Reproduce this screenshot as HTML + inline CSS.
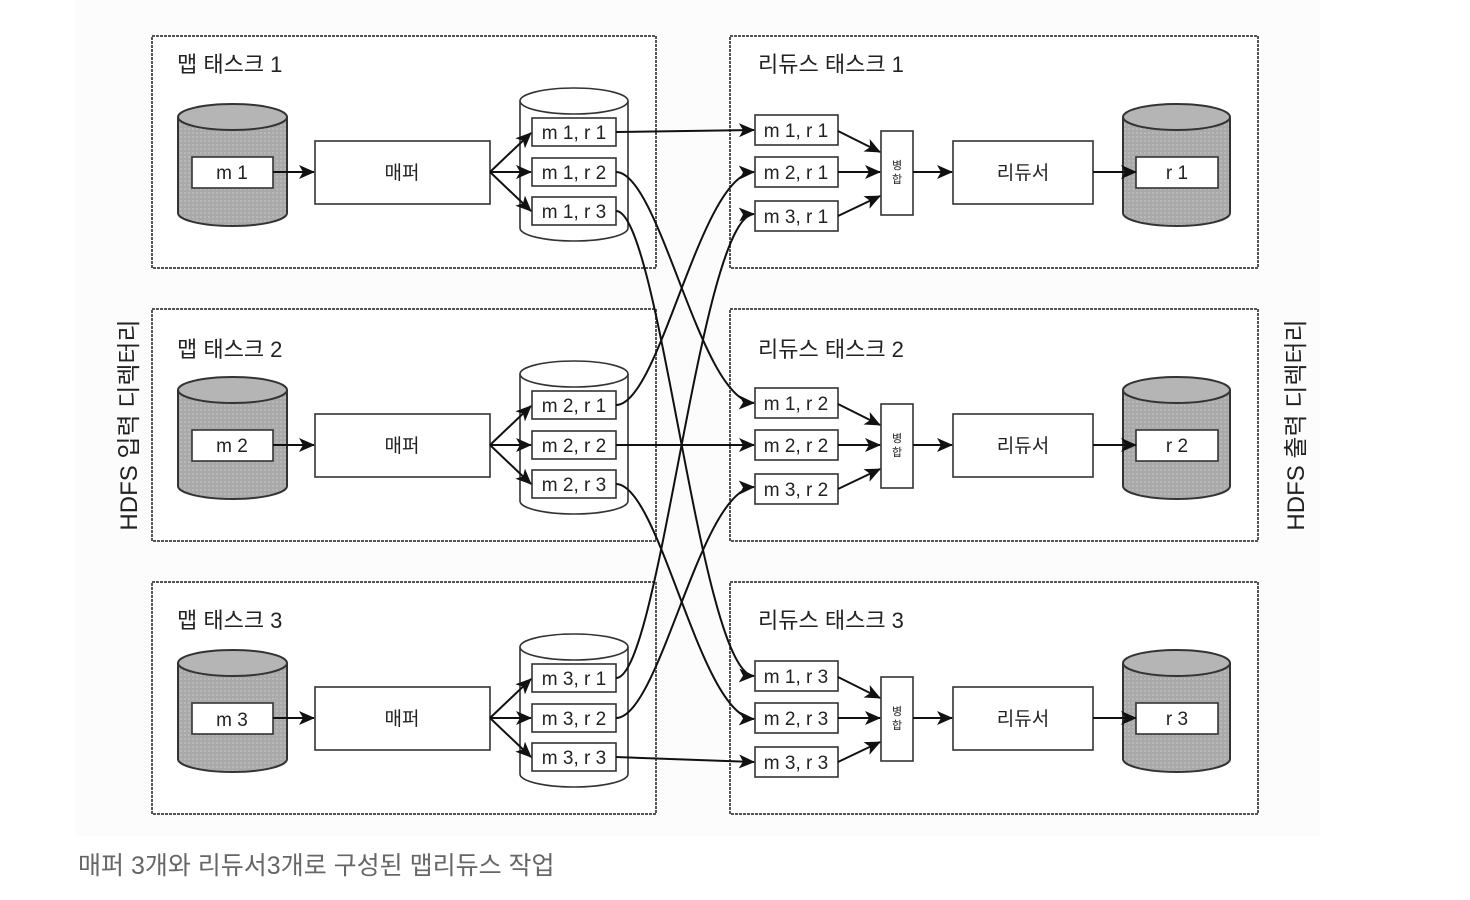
<!DOCTYPE html>
<html><head><meta charset="utf-8"><style>
html,body{margin:0;padding:0;background:#fff;width:1470px;height:900px;overflow:hidden}
text{font-family:"Liberation Sans","Noto Sans CJK KR",sans-serif;fill:#222}
</style></head><body>
<svg width="1470" height="900" viewBox="0 0 1470 900" xmlns="http://www.w3.org/2000/svg">
<defs>
<marker id="a" markerWidth="16" markerHeight="14" refX="15" refY="7" orient="auto" markerUnits="userSpaceOnUse" viewBox="0 0 16 14"><path d="M0,0 L16,7 L0,14 L4,7 z" fill="#111"/></marker>
<pattern id="g" width="4" height="4" patternUnits="userSpaceOnUse"><rect width="4" height="4" fill="#a9a9a9"/><rect width="2" height="2" fill="#b8b8b8"/></pattern>
</defs>
<rect x="75" y="0" width="1245" height="836" fill="#fcfcfc"/>

<g stroke="#333" stroke-width="1.6" fill="none">
<g>
<rect x="152" y="36" width="504" height="232" stroke="#555" stroke-width="2" stroke-dasharray="3 1" fill="#fff"/>
<path d="M178,117 v96 a54.5,13 0 0 0 109,0 v-96" fill="url(#g)" stroke-width="2"/>
<ellipse cx="232.5" cy="117" rx="54.5" ry="13" fill="#b5b5b5" stroke-width="2"/>
<rect x="192" y="157" width="81" height="31" fill="#fff"/>
<line x1="273" y1="172" x2="314" y2="172" marker-end="url(#a)" stroke="#111" stroke-width="2"/>
<rect x="315" y="141" width="175" height="63" fill="#fff"/>
<path d="M520,101 v127 a54,13 0 0 0 108,0 v-127" fill="#fff"/>
<ellipse cx="574" cy="101" rx="54" ry="13" fill="#fff"/>
<rect x="532" y="118" width="84" height="28" fill="#fff"/>
<rect x="532" y="158" width="84" height="28" fill="#fff"/>
<rect x="532" y="197" width="84" height="28" fill="#fff"/>
<g stroke="#111" stroke-width="2"><line x1="490" y1="172" x2="531" y2="133" marker-end="url(#a)"/><line x1="490" y1="172" x2="531" y2="172" marker-end="url(#a)"/><line x1="490" y1="172" x2="531" y2="211" marker-end="url(#a)"/></g>
</g>
<g transform="translate(0,273)">
<rect x="152" y="36" width="504" height="232" stroke="#555" stroke-width="2" stroke-dasharray="3 1" fill="#fff"/>
<path d="M178,117 v96 a54.5,13 0 0 0 109,0 v-96" fill="url(#g)" stroke-width="2"/>
<ellipse cx="232.5" cy="117" rx="54.5" ry="13" fill="#b5b5b5" stroke-width="2"/>
<rect x="192" y="157" width="81" height="31" fill="#fff"/>
<line x1="273" y1="172" x2="314" y2="172" marker-end="url(#a)" stroke="#111" stroke-width="2"/>
<rect x="315" y="141" width="175" height="63" fill="#fff"/>
<path d="M520,101 v127 a54,13 0 0 0 108,0 v-127" fill="#fff"/>
<ellipse cx="574" cy="101" rx="54" ry="13" fill="#fff"/>
<rect x="532" y="118" width="84" height="28" fill="#fff"/>
<rect x="532" y="158" width="84" height="28" fill="#fff"/>
<rect x="532" y="197" width="84" height="28" fill="#fff"/>
<g stroke="#111" stroke-width="2"><line x1="490" y1="172" x2="531" y2="133" marker-end="url(#a)"/><line x1="490" y1="172" x2="531" y2="172" marker-end="url(#a)"/><line x1="490" y1="172" x2="531" y2="211" marker-end="url(#a)"/></g>
</g>
<g transform="translate(0,546)">
<rect x="152" y="36" width="504" height="232" stroke="#555" stroke-width="2" stroke-dasharray="3 1" fill="#fff"/>
<path d="M178,117 v96 a54.5,13 0 0 0 109,0 v-96" fill="url(#g)" stroke-width="2"/>
<ellipse cx="232.5" cy="117" rx="54.5" ry="13" fill="#b5b5b5" stroke-width="2"/>
<rect x="192" y="157" width="81" height="31" fill="#fff"/>
<line x1="273" y1="172" x2="314" y2="172" marker-end="url(#a)" stroke="#111" stroke-width="2"/>
<rect x="315" y="141" width="175" height="63" fill="#fff"/>
<path d="M520,101 v127 a54,13 0 0 0 108,0 v-127" fill="#fff"/>
<ellipse cx="574" cy="101" rx="54" ry="13" fill="#fff"/>
<rect x="532" y="118" width="84" height="28" fill="#fff"/>
<rect x="532" y="158" width="84" height="28" fill="#fff"/>
<rect x="532" y="197" width="84" height="28" fill="#fff"/>
<g stroke="#111" stroke-width="2"><line x1="490" y1="172" x2="531" y2="133" marker-end="url(#a)"/><line x1="490" y1="172" x2="531" y2="172" marker-end="url(#a)"/><line x1="490" y1="172" x2="531" y2="211" marker-end="url(#a)"/></g>
</g>
</g>

<g stroke="#333" stroke-width="1.6" fill="none">
<g>
<rect x="730" y="36" width="528" height="232" stroke="#555" stroke-width="2" stroke-dasharray="3 1" fill="#fff"/>
<rect x="755" y="115" width="83" height="30" fill="#fff"/>
<rect x="755" y="157" width="83" height="30" fill="#fff"/>
<rect x="755" y="201" width="83" height="30" fill="#fff"/>
<rect x="881" y="131" width="32" height="84" fill="#fff"/>
<rect x="953" y="141" width="140" height="63" fill="#fff"/>
<path d="M1123,117 v96 a53.5,13 0 0 0 107,0 v-96" fill="url(#g)" stroke-width="2"/>
<ellipse cx="1176.5" cy="117" rx="53.5" ry="13" fill="#b5b5b5" stroke-width="2"/>
<rect x="1136" y="157" width="82" height="31" fill="#fff"/>
<g stroke="#111" stroke-width="2"><line x1="838" y1="131" x2="880" y2="152" marker-end="url(#a)"/><line x1="838" y1="172" x2="880" y2="172" marker-end="url(#a)"/><line x1="838" y1="216" x2="880" y2="196" marker-end="url(#a)"/><line x1="913" y1="172" x2="952" y2="172" marker-end="url(#a)"/><line x1="1093" y1="172" x2="1136" y2="172" marker-end="url(#a)"/></g>
</g>
<g transform="translate(0,273)">
<rect x="730" y="36" width="528" height="232" stroke="#555" stroke-width="2" stroke-dasharray="3 1" fill="#fff"/>
<rect x="755" y="115" width="83" height="30" fill="#fff"/>
<rect x="755" y="157" width="83" height="30" fill="#fff"/>
<rect x="755" y="201" width="83" height="30" fill="#fff"/>
<rect x="881" y="131" width="32" height="84" fill="#fff"/>
<rect x="953" y="141" width="140" height="63" fill="#fff"/>
<path d="M1123,117 v96 a53.5,13 0 0 0 107,0 v-96" fill="url(#g)" stroke-width="2"/>
<ellipse cx="1176.5" cy="117" rx="53.5" ry="13" fill="#b5b5b5" stroke-width="2"/>
<rect x="1136" y="157" width="82" height="31" fill="#fff"/>
<g stroke="#111" stroke-width="2"><line x1="838" y1="131" x2="880" y2="152" marker-end="url(#a)"/><line x1="838" y1="172" x2="880" y2="172" marker-end="url(#a)"/><line x1="838" y1="216" x2="880" y2="196" marker-end="url(#a)"/><line x1="913" y1="172" x2="952" y2="172" marker-end="url(#a)"/><line x1="1093" y1="172" x2="1136" y2="172" marker-end="url(#a)"/></g>
</g>
<g transform="translate(0,546)">
<rect x="730" y="36" width="528" height="232" stroke="#555" stroke-width="2" stroke-dasharray="3 1" fill="#fff"/>
<rect x="755" y="115" width="83" height="30" fill="#fff"/>
<rect x="755" y="157" width="83" height="30" fill="#fff"/>
<rect x="755" y="201" width="83" height="30" fill="#fff"/>
<rect x="881" y="131" width="32" height="84" fill="#fff"/>
<rect x="953" y="141" width="140" height="63" fill="#fff"/>
<path d="M1123,117 v96 a53.5,13 0 0 0 107,0 v-96" fill="url(#g)" stroke-width="2"/>
<ellipse cx="1176.5" cy="117" rx="53.5" ry="13" fill="#b5b5b5" stroke-width="2"/>
<rect x="1136" y="157" width="82" height="31" fill="#fff"/>
<g stroke="#111" stroke-width="2"><line x1="838" y1="131" x2="880" y2="152" marker-end="url(#a)"/><line x1="838" y1="172" x2="880" y2="172" marker-end="url(#a)"/><line x1="838" y1="216" x2="880" y2="196" marker-end="url(#a)"/><line x1="913" y1="172" x2="952" y2="172" marker-end="url(#a)"/><line x1="1093" y1="172" x2="1136" y2="172" marker-end="url(#a)"/></g>
</g>
</g>

<g stroke="#111" stroke-width="2" fill="none" marker-end="url(#a)">
<path d="M616,132 L754,130"/>
<path d="M616,172 C660,172 700,401 754,403"/>
<path d="M616,211 C660,211 700,674 754,676"/>
<path d="M616,405 C660,405 700,174 754,172"/>
<path d="M616,445 L754,445"/>
<path d="M616,484 C660,484 700,717 754,719"/>
<path d="M616,678 C660,678 700,216 754,214"/>
<path d="M616,718 C660,718 700,489 754,487"/>
<path d="M616,757 L754,762"/>
</g>

<g font-size="22">
<text x="177" y="72">맵 태스크 1</text>
<text x="177" y="357">맵 태스크 2</text>
<text x="177" y="628">맵 태스크 3</text>
<text x="758" y="72">리듀스 태스크 1</text>
<text x="758" y="357">리듀스 태스크 2</text>
<text x="758" y="628">리듀스 태스크 3</text>
</g>
<g font-size="19" text-anchor="middle">
<text x="232" y="179">m 1</text><text x="232" y="452">m 2</text><text x="232" y="726">m 3</text>
<text x="402" y="179">매퍼</text><text x="402" y="452">매퍼</text><text x="402" y="725">매퍼</text>
<text x="574" y="139">m 1, r 1</text><text x="574" y="179">m 1, r 2</text><text x="574" y="218">m 1, r 3</text>
<text x="574" y="412">m 2, r 1</text><text x="574" y="452">m 2, r 2</text><text x="574" y="491">m 2, r 3</text>
<text x="574" y="685">m 3, r 1</text><text x="574" y="725">m 3, r 2</text><text x="574" y="764">m 3, r 3</text>
<text x="796" y="137">m 1, r 1</text><text x="796" y="179">m 2, r 1</text><text x="796" y="223">m 3, r 1</text>
<text x="796" y="410">m 1, r 2</text><text x="796" y="452">m 2, r 2</text><text x="796" y="496">m 3, r 2</text>
<text x="796" y="683">m 1, r 3</text><text x="796" y="725">m 2, r 3</text><text x="796" y="769">m 3, r 3</text>
<text x="1023" y="179">리듀서</text><text x="1023" y="452">리듀서</text><text x="1023" y="725">리듀서</text>
<text x="1177" y="179">r 1</text><text x="1177" y="452">r 2</text><text x="1177" y="725">r 3</text>
</g>
<g font-size="11" text-anchor="middle">
<text x="897" y="169">병</text><text x="897" y="183">합</text>
<text x="897" y="442">병</text><text x="897" y="456">합</text>
<text x="897" y="715">병</text><text x="897" y="729">합</text>
</g>
<text font-size="24" text-anchor="middle" transform="translate(137,425) rotate(-90)">HDFS 입력 디렉터리</text>
<text font-size="24" text-anchor="middle" transform="translate(1304,425) rotate(-90)">HDFS 출력 디렉터리</text>
<text x="78" y="874" font-size="25" style="fill:#666">매퍼 3개와 리듀서3개로 구성된 맵리듀스 작업</text>
</svg>
</body></html>
